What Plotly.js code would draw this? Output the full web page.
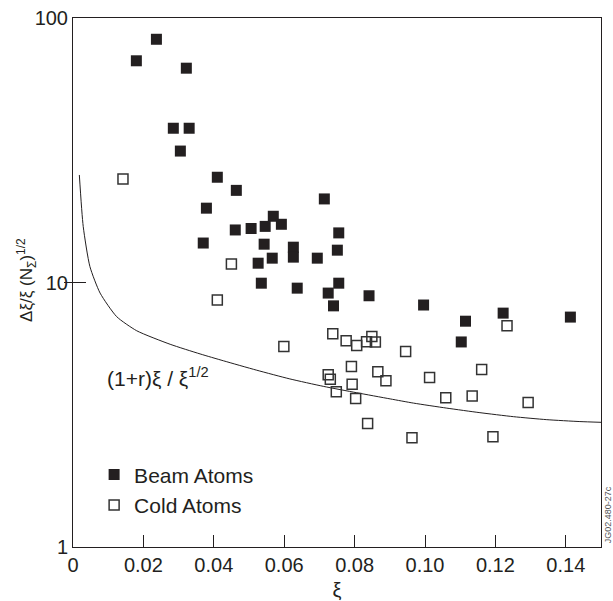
<!DOCTYPE html>
<html>
<head>
<meta charset="utf-8">
<script src="https://cdn.plot.ly/plotly-3.0.1.min.js"></script>
<style>html,body{margin:0;padding:0;background:#fff;}#chart{width:613px;height:601px;}</style>
</head>
<body>
<div id="chart"></div>
<script>
// Beam atoms (filled squares)
const beamX = [0.0237,0.0180,0.0322,0.0285,0.0330,0.0305,0.0410,0.0464,0.0379,0.0714,
  0.0569,0.0592,0.0546,0.0506,0.0461,0.0755,0.0370,0.0543,0.0626,0.0626,
  0.0751,0.0694,0.0566,0.0526,0.0535,0.0755,0.0637,0.0725,0.0740,0.0841,
  0.0996,0.1115,0.1222,0.1413,0.1103];
const beamY = [83.1,68.9,64.6,38.3,38.3,31.4,25.0,22.3,19.1,20.7,
  17.8,16.6,16.3,16.0,15.8,15.4,14.1,13.96,13.6,12.47,
  13.25,12.36,12.36,11.83,9.94,9.94,9.52,9.12,8.16,8.91,
  8.22,7.14,7.66,7.40,5.96];

// Cold atoms (open squares)
const coldX = [0.0142,0.0450,0.0410,0.0599,0.0738,0.0776,0.0806,0.0834,0.0849,0.0859,
  0.0945,0.0791,0.0725,0.0731,0.0866,0.0889,0.0793,0.0748,0.0803,0.1013,
  0.1059,0.0837,0.0963,0.1233,0.1161,0.1134,0.1293,0.1193];
const coldY = [24.6,11.76,8.59,5.73,6.40,6.02,5.78,5.97,6.25,5.96,
  5.49,4.81,4.48,4.31,4.60,4.25,4.12,3.86,3.64,4.37,
  3.67,2.93,2.59,6.86,4.69,3.72,3.52,2.61];

// Reference curve (1+r)ξ / ξ^1/2
const curveX = [0.0018,0.0029,0.0048,0.0077,0.0124,0.0181,0.0276,0.0361,0.0427,0.0522,
  0.0616,0.0711,0.0806,0.0901,0.0967,0.1062,0.1156,0.1251,0.1346,0.1440,0.1502];
const curveY = [25.5,16.3,11.49,9.12,7.43,6.57,5.84,5.37,5.06,4.66,
  4.32,4.05,3.83,3.63,3.50,3.35,3.22,3.11,3.03,2.98,2.96];

const xTickVals = [0,0.02,0.04,0.06,0.08,0.10,0.12,0.14];
const xTickText = ["0","0.02","0.04","0.06","0.08","0.10","0.12","0.14"];
const yTickVals = [1,10,100];
const yTickText = ["1","10","100"];

const ink = '#231f20';
const FONT = '"Liberation Sans", Arial, Helvetica, sans-serif';

const traces = [
  {x: curveX, y: curveY, mode: 'lines', line: {color: ink, width: 1, shape: 'spline', smoothing: 0.6},
   showlegend: false, hoverinfo: 'skip'},
  {x: beamX, y: beamY, mode: 'markers', name: 'Beam Atoms',
   marker: {symbol: 'square', size: 11, color: ink, line: {width: 0}}},
  {x: coldX, y: coldY, mode: 'markers', name: 'Cold Atoms',
   marker: {symbol: 'square-open', size: 10, color: '#333333', line: {width: 1.5, color: '#333333'}}},
  // invisible trace on secondary axis to carry the outside half of the tick at 10
  {x: [0.1], y: [10], yaxis: 'y2', mode: 'markers', marker: {opacity: 0}, showlegend: false, hoverinfo: 'skip'}
];

const layout = {
  width: 613, height: 601,
  margin: {l: 73, r: 12, t: 18, b: 54},
  paper_bgcolor: '#fff', plot_bgcolor: '#fff',
  font: {family: FONT, color: ink, size: 20},
  showlegend: true,
  legend: {x: 0.04, y: 0.175, xanchor: 'left', yanchor: 'top', bgcolor: 'rgba(0,0,0,0)',
    font: {size: 21, family: FONT, color: ink}, tracegroupgap: 0},
  xaxis: {range: [0, 0.15], tickvals: xTickVals, ticktext: xTickText,
    ticks: 'inside', ticklen: 12, tickwidth: 1, tickcolor: ink,
    showline: true, linecolor: ink, linewidth: 1, mirror: true,
    showgrid: false, zeroline: false,
    tickfont: {size: 20, family: FONT, color: ink},
    title: {text: 'ξ', font: {size: 20, family: FONT, color: ink}, standoff: 8}},
  yaxis: {type: 'log', range: [0, 2], tickvals: yTickVals, ticktext: yTickText,
    ticks: 'inside', ticklen: 13, tickwidth: 1, tickcolor: ink,
    showline: true, linecolor: ink, linewidth: 1, mirror: true,
    showgrid: false, zeroline: false,
    tickfont: {size: 20, family: FONT, color: ink}},
  yaxis2: {type: 'log', range: [0, 2], overlaying: 'y', side: 'left', tickvals: [10],
    ticks: 'outside', ticklen: 8, tickwidth: 1, tickcolor: ink, showticklabels: false,
    showline: false, showgrid: false, zeroline: false},
  annotations: [
    {xref: 'paper', yref: 'paper', x: -0.087, y: 0.505, xanchor: 'center', yanchor: 'middle',
     text: 'Δξ/ξ (N<sub>Σ</sub>)<sup>1/2</sup>', textangle: -90, showarrow: false,
     font: {size: 17, family: FONT, color: ink}},
    {xref: 'paper', yref: 'paper', x: 0.06, y: 0.322, xanchor: 'left', yanchor: 'middle',
     text: '(1+r)ξ / ξ<sup>1/2</sup>', showarrow: false, font: {size: 21, family: FONT, color: ink}},
    {xref: 'paper', yref: 'paper', x: 1.0, y: 0.06, xanchor: 'left', yanchor: 'middle', xshift: 0,
     text: 'JG02.480-27c', textangle: -90, showarrow: false, font: {size: 9, family: FONT, color: '#555'}}
  ]
};

Plotly.newPlot('chart', traces, layout, {displayModeBar: false, staticPlot: true});
</script>
</body>
</html>
